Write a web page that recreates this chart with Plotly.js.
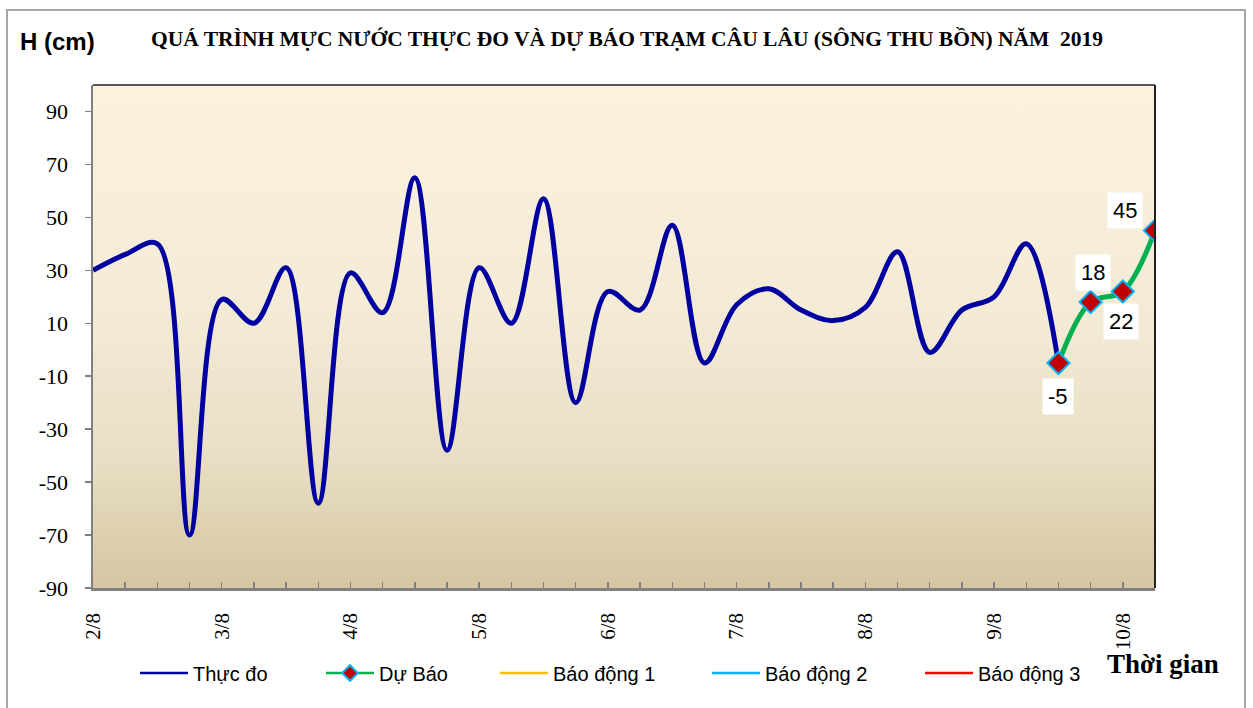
<!DOCTYPE html>
<html>
<head>
<meta charset="utf-8">
<script src="https://cdn.plot.ly/plotly-3.0.1.min.js"></script>
<style>
  html, body { margin: 0; padding: 0; background: #ffffff; }
  #wrap { position: relative; width: 1253px; height: 708px; overflow: hidden; }
  #bg { position: absolute; left: 93px; top: 85px; width: 1062px; height: 503px;
        background: linear-gradient(to bottom, #FBF1DF 0%, #F4EBD7 45%, #E9DEC4 75%, #D4C6A2 100%); }
  #frame { position: absolute; left: 6px; top: 9px; width: 1240px; height: 720px;
           border: 2px solid #A6A6A6; box-sizing: border-box; pointer-events: none; }
  #chart { position: absolute; left: 0; top: 0; width: 1253px; height: 708px; }
  .legendlines path { stroke-width: 2.5px !important; }
</style>
</head>
<body>
<div id="wrap">
  <div id="bg"></div>
  <div id="chart"></div>
  <div id="frame"></div>
</div>
<script>
// ---- data ----
const obsTimes = [
  "2019-08-02 00:00","2019-08-02 06:00","2019-08-02 12:00","2019-08-02 18:00",
  "2019-08-03 00:00","2019-08-03 06:00","2019-08-03 12:00","2019-08-03 18:00",
  "2019-08-04 00:00","2019-08-04 06:00","2019-08-04 12:00","2019-08-04 18:00",
  "2019-08-05 00:00","2019-08-05 06:00","2019-08-05 12:00","2019-08-05 18:00",
  "2019-08-06 00:00","2019-08-06 06:00","2019-08-06 12:00","2019-08-06 18:00",
  "2019-08-07 00:00","2019-08-07 06:00","2019-08-07 12:00","2019-08-07 18:00",
  "2019-08-08 00:00","2019-08-08 06:00","2019-08-08 12:00","2019-08-08 18:00",
  "2019-08-09 00:00","2019-08-09 06:00","2019-08-09 12:00"
];
const obsValues = [
  30, 36, 40, -70,
  19, 10, 31, -58,
  29, 14, 65, -38,
  31, 10, 57, -20,
  22, 15, 47, -5,
  17, 23, 15, 11,
  16, 37, -1, 15,
  20, 40, -5
];
const fcTimes = ["2019-08-09 12:00","2019-08-09 18:00","2019-08-10 00:00","2019-08-10 06:00"];
const fcValues = [-5, 18, 22, 45];
const dayTicks = ["2019-08-02","2019-08-03","2019-08-04","2019-08-05","2019-08-06",
                  "2019-08-07","2019-08-08","2019-08-09","2019-08-10"];
const dayLabels = ["2/8","3/8","4/8","5/8","6/8","7/8","8/8","9/8","10/8"];
const yTickVals = [-90, -70, -50, -30, -10, 10, 30, 50, 70, 90];
const yTickText = ["-90", "-70", "-50", "-30", "-10", "10", "30", "50", "70", "90"];
const seriesNames = ["Thực đo","Dự Báo","Báo động 1","Báo động 2","Báo động 3"];
const alarmValues = [null];   // alarm levels: not visible within the plotted range
const xRange = ["2019-08-02 00:00","2019-08-10 06:00"];
const yRange = [-90, 100];

// ---- styling ----
const W = 1253, H = 708;
const PL = 93, PR = 1155, PT = 85, PB = 588;
const px2paperX = p => (p - PL) / (PR - PL);
const py2paperY = p => (PB - p) / (PB - PT);
const legendTextX = [193, 379, 553, 765, 978];  // pixel x where legend text starts
const legendY = 673;
const legSym = 48;
const legFont = {family: "Liberation Sans, Arial, sans-serif", size: 20, color: "#000"};

function legendCfg(i) {
  return {
    orientation: "h", xref: "container", yref: "container",
    x: (legendTextX[i] - legSym - 10) / W, y: 1 - legendY / H,
    xanchor: "left", yanchor: "middle", itemwidth: legSym, itemsizing: "constant",
    bgcolor: "rgba(0,0,0,0)", borderwidth: 0, font: legFont
  };
}

const traces = [
  {x: obsTimes, y: obsValues, type: "scatter", mode: "lines", name: seriesNames[0],
   line: {color: "#0000A0", width: 5, shape: "spline", smoothing: 1}, legend: "legend"},
  {x: fcTimes, y: fcValues, type: "scatter", mode: "lines+markers", name: seriesNames[1],
   line: {color: "#00B050", width: 5, shape: "spline", smoothing: 1},
   marker: {symbol: "diamond", size: 17, color: "#C00000", line: {color: "#00B0F0", width: 2}},
   legend: "legend2"},
  {x: [obsTimes[0]], y: alarmValues, type: "scatter", mode: "lines", name: seriesNames[2],
   line: {color: "#FFC000", width: 3}, legend: "legend3"},
  {x: [obsTimes[0]], y: alarmValues, type: "scatter", mode: "lines", name: seriesNames[3],
   line: {color: "#00B0F0", width: 3}, legend: "legend4"},
  {x: [obsTimes[0]], y: alarmValues, type: "scatter", mode: "lines", name: seriesNames[4],
   line: {color: "#FF0000", width: 3}, legend: "legend5"}
];

// data labels for forecast points
const labelShift = [[0, -34], [2, 30], [-2, -30], [-30, 20]];
const annotations = fcValues.map((v, i) => ({
  x: fcTimes[i], y: v, xref: "x", yref: "y", text: String(v), showarrow: false,
  xshift: labelShift[i][0], yshift: labelShift[i][1],
  bgcolor: "#ffffff", borderpad: 5,
  font: {family: "Liberation Sans, Arial, sans-serif", size: 22, color: "#000"}
}));
annotations.push(
  {xref: "paper", yref: "paper", x: px2paperX(57), y: py2paperY(42), xanchor: "center", yanchor: "middle",
   text: "<b>H (cm)</b>", showarrow: false,
   font: {family: "Liberation Sans, Arial, sans-serif", size: 24, color: "#000"}},
  {xref: "paper", yref: "paper", x: px2paperX(1163), y: py2paperY(664), xanchor: "center", yanchor: "middle",
   text: "<b>Thời gian</b>", showarrow: false,
   font: {family: "Liberation Serif, Times New Roman, serif", size: 27, color: "#000"}}
);

const layout = {
  width: W, height: H,
  margin: {l: PL, r: W - PR, t: PT, b: H - PB},
  paper_bgcolor: "rgba(0,0,0,0)", plot_bgcolor: "rgba(0,0,0,0)",
  title: {text: "<b>QUÁ TRÌNH MỰC NƯỚC THỰC ĐO VÀ DỰ BÁO TRẠM CÂU LÂU (SÔNG THU BỒN) NĂM  2019</b>",
          x: 627 / W, xanchor: "center", y: 1 - 38 / H, yanchor: "middle",
          font: {family: "Liberation Serif, Times New Roman, serif", size: 21.5, color: "#000"}},
  xaxis: {type: "date", range: xRange, tickvals: dayTicks, ticktext: dayLabels,
          tickangle: -90, ticks: "inside", ticklen: 6, tickcolor: "#808080", tickwidth: 1.5,
          ticklabelstandoff: 14,
          minor: {dtick: 6 * 3600 * 1000, ticks: "inside", ticklen: 6, tickcolor: "#808080", tickwidth: 1.5, showgrid: false},
          showline: true, linecolor: "#808080", linewidth: 2.5, showgrid: false, zeroline: false,
          tickfont: {family: "Liberation Serif, Times New Roman, serif", size: 21, color: "#000"},
          fixedrange: true},
  yaxis: {range: yRange, tickvals: yTickVals, ticktext: yTickText, ticks: "outside", ticklen: 6,
          tickcolor: "#808080", tickwidth: 1.5, ticklabelstandoff: 12,
          showline: true, linecolor: "#808080", linewidth: 2.5, showgrid: false, zeroline: false,
          tickfont: {family: "Liberation Serif, Times New Roman, serif", size: 22, color: "#000"},
          fixedrange: true},
  shapes: [
    {type: "line", xref: "paper", yref: "paper", x0: 0, x1: 1, y0: 1, y1: 1, line: {color: "#202020", width: 1.5}},
    {type: "line", xref: "paper", yref: "paper", x0: 1, x1: 1, y0: 0, y1: 1, line: {color: "#202020", width: 2}}
  ],
  annotations: annotations,
  showlegend: true,
  legend: legendCfg(0), legend2: legendCfg(1), legend3: legendCfg(2),
  legend4: legendCfg(3), legend5: legendCfg(4)
};

Plotly.newPlot("chart", traces, layout, {staticPlot: true, displayModeBar: false});
</script>
</body>
</html>
